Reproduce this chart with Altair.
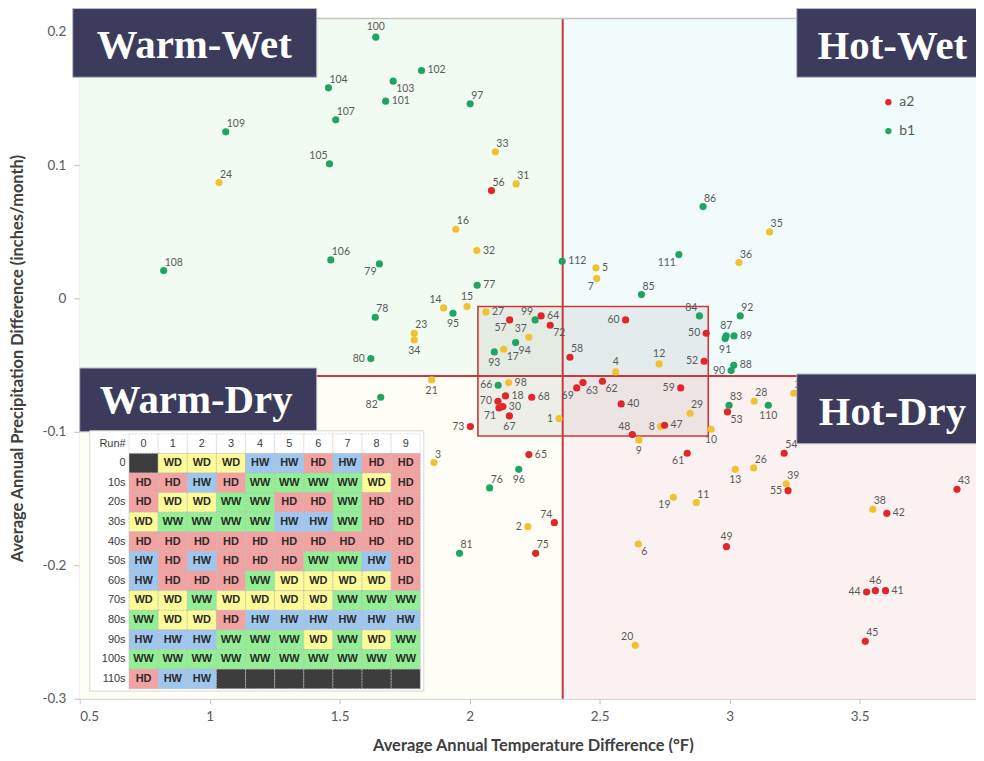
import altair as alt
import pandas as pd

# ---------------- data ----------------
run_ids = [1, 2, 3, 4, 5, 6, 7, 8, 9, 10,
           11, 12, 13, 14, 15, 16, 17, 18, 19, 20,
           21, 23, 24, 25, 26, 27, 28, 29, 30,
           31, 32, 33, 34, 35, 36, 37, 38, 39,
           40, 41, 42, 43, 44, 45, 46, 47, 48, 49,
           50, 52, 53, 54, 55, 56, 57, 58, 59, 60,
           61, 62, 63, 64, 65, 66, 67, 68, 69, 70,
           71, 72, 73, 74, 75, 76, 77, 78, 79, 80,
           81, 82, 83, 84, 85, 86, 87, 88, 89, 90,
           91, 92, 93, 94, 95, 96, 97, 98, 99, 100,
           101, 102, 103, 104, 105, 106, 107, 108, 109, 110,
           111, 112]

temp_diff = [2.344, 2.224, 1.863, 2.562, 2.486, 2.649, 2.489, 2.735, 2.651, 2.929,
             2.872, 2.729, 3.022, 1.900, 1.990, 1.947, 2.131, 2.138, 2.784, 2.637,
             1.854, 1.787, 1.036, 3.247, 3.093, 2.063, 3.095, 2.848, 2.128,
             2.179, 2.028, 2.099, 1.787, 3.154, 3.036, 2.228, 3.551, 3.218,
             2.583, 3.600, 3.605, 3.875, 3.527, 3.522, 3.561, 2.750, 2.626, 2.988,
             2.910, 2.902, 2.992, 3.210, 3.225, 2.084, 2.154, 2.386, 2.812, 2.600,
             2.837, 2.511, 2.436, 2.275, 2.228, 2.110, 2.153, 2.239, 2.412, 2.109,
             2.113, 2.310, 2.003, 2.326, 2.254, 2.077, 2.029, 1.637, 1.653, 1.620,
             1.961, 1.658, 2.998, 2.884, 2.661, 2.898, 2.987, 3.016, 3.017, 3.006,
             2.983, 3.041, 2.095, 2.177, 1.936, 2.189, 2.002, 2.150, 2.252, 1.639,
             1.677, 1.815, 1.706, 1.457, 1.461, 1.466, 1.485, 0.823, 1.062, 3.149,
             2.805, 2.356]

precip_diff = [-0.090, -0.171, -0.123, -0.055, 0.023, -0.184, 0.015, -0.096, -0.106, -0.098,
               -0.153, -0.049, -0.128, -0.007, -0.006, 0.052, -0.038, -0.073, -0.149, -0.260,
               -0.061, -0.026, 0.087, -0.071, -0.127, -0.010, -0.077, -0.086, -0.081,
               0.086, 0.036, 0.110, -0.031, 0.050, 0.027, -0.029, -0.158, -0.139,
               -0.079, -0.219, -0.161, -0.143, -0.220, -0.257, -0.219, -0.095, -0.102, -0.186,
               -0.026, -0.047, -0.085, -0.116, -0.144, 0.081, -0.016, -0.044, -0.067, -0.016,
               -0.116, -0.062, -0.063, -0.013, -0.117, -0.065, -0.088, -0.074, -0.067, -0.077,
               -0.082, -0.020, -0.096, -0.168, -0.191, -0.142, 0.010, -0.014, 0.026, -0.045,
               -0.191, -0.074, -0.080, -0.013, 0.003, 0.069, -0.028, -0.050, -0.028, -0.054,
               -0.030, -0.013, -0.040, -0.033, -0.011, -0.128, 0.146, -0.063, -0.016, 0.196,
               0.148, 0.171, 0.163, 0.158, 0.101, 0.029, 0.134, 0.021, 0.125, -0.080,
               0.033, 0.028]

scenario = ["a1b", "a1b", "a1b", "a1b", "a1b", "a1b", "a1b", "a1b", "a1b", "a1b",
            "a1b", "a1b", "a1b", "a1b", "a1b", "a1b", "a1b", "a2", "a1b", "a1b",
            "a1b", "a1b", "a1b", "a1b", "a1b", "a1b", "a1b", "a1b", "a2",
            "a1b", "a1b", "a1b", "a1b", "a1b", "a1b", "a1b", "a1b", "a1b",
            "a2", "a2", "a2", "a2", "a2", "a2", "a2", "a2", "a2", "a2",
            "a2", "a2", "a2", "a2", "a2", "a2", "a2", "a2", "a2", "a2",
            "a2", "a2", "a2", "a2", "a2", "b1", "a2", "a2", "a2", "a2",
            "a2", "a2", "a2", "a2", "a2", "b1", "b1", "b1", "b1", "b1",
            "b1", "b1", "b1", "b1", "b1", "b1", "b1", "b1", "b1", "b1",
            "b1", "b1", "b1", "b1", "b1", "b1", "b1", "a1b", "b1", "b1",
            "b1", "b1", "b1", "b1", "b1", "b1", "b1", "b1", "b1", "b1",
            "b1", "b1"]

# where each run number sits around its dot (compass side)
label_side = ["w", "w", "ne", "n", "e", "se", "sw", "w", "s", "s",
              "ne", "n", "s", "nw", "n", "ne", "se", "e", "sw", "nw",
              "s", "ne", "ne", "ne", "ne", "e", "ne", "ne", "e",
              "ne", "e", "ne", "s", "ne", "ne", "nw", "ne", "ne",
              "e", "e", "e", "ne", "w", "ne", "n", "e", "nw", "n",
              "w", "w", "se", "ne", "w", "ne", "sw", "ne", "w", "w",
              "sw", "se", "se", "e", "e", "w", "s", "e", "sw", "w",
              "sw", "se", "w", "nw", "ne", "ne", "e", "ne", "sw", "w",
              "ne", "sw", "ne", "nw", "ne", "ne", "n", "e", "e", "w",
              "s", "ne", "s", "se", "s", "s", "ne", "e", "nw", "n",
              "e", "e", "se", "ne", "nw", "ne", "ne", "ne", "ne", "s",
              "sw", "e"]

scenario_names = ["a1b", "a2", "b1"]
legend_entries = ["a2", "b1"]

quadrant_names = ["Warm-Wet", "Hot-Wet", "Warm-Dry", "Hot-Dry"]
temp_split = 2.358
precip_split = -0.058
focus_temp = [2.032, 2.918]
focus_precip = [-0.103, -0.006]
x_limits = [0.5, 3.948]
y_limits = [-0.3, 0.21]
x_ticks = [0.5, 1, 1.5, 2, 2.5, 3, 3.5]
y_ticks = [-0.3, -0.2, -0.1, 0, 0.1, 0.2]

table_header = ["Run#", "0", "1", "2", "3", "4", "5", "6", "7", "8", "9"]
table_rows = ["0", "10s", "20s", "30s", "40s", "50s", "60s", "70s", "80s", "90s", "100s", "110s"]
table_codes = [
    ["", "WD", "WD", "WD", "HW", "HW", "HD", "HW", "HD", "HD"],
    ["HD", "HD", "HW", "HD", "WW", "WW", "WW", "WW", "WD", "HD"],
    ["HD", "WD", "WD", "WW", "WW", "HD", "HD", "WW", "HD", "HD"],
    ["WD", "WW", "WW", "WW", "WW", "HW", "HW", "WW", "HD", "HD"],
    ["HD", "HD", "HD", "HD", "HD", "HD", "HD", "HD", "HD", "HD"],
    ["HW", "HD", "HW", "HD", "HD", "HD", "WW", "WW", "HW", "HD"],
    ["HW", "HD", "HD", "HD", "WW", "WD", "WD", "WD", "WD", "HD"],
    ["WD", "WD", "WW", "WD", "WD", "WD", "WD", "WW", "WW", "WW"],
    ["WW", "WD", "WD", "HD", "HW", "HW", "HW", "HW", "HW", "HW"],
    ["HW", "HW", "HW", "WW", "WW", "WW", "WD", "WW", "WD", "WW"],
    ["WW", "WW", "WW", "WW", "WW", "WW", "WW", "WW", "WW", "WW"],
    ["HD", "HW", "HW", "", "", "", "", "", "", ""],
]
code_names = ["HD", "WD", "HW", "WW", ""]

# ---------------- styling ----------------
RED, YELLOW, GREEN = "#e2252b", "#f1c22f", "#1fa463"
LINE_RED = "#c9393b"
NAVY = "#3d3b5b"
LABEL_GRAY = "#595959"
FONT = "Lato"

x_title = "Average Annual Temperature Difference (\u00b0F)"
y_title = "Average Annual Precipitation Difference (inches/month)"

xs = alt.Scale(domain=x_limits, nice=False, zero=False)
ys = alt.Scale(domain=y_limits, nice=False, zero=False)

x_axis = alt.Axis(values=x_ticks, grid=False, domainColor="#bfbfbf", tickColor="#bfbfbf",
                  tickSize=5, labelPadding=6, labelFont=FONT, labelFontSize=13.5,
                  labelColor=LABEL_GRAY, labelExpr="format(datum.value, '~g')",
                  titleFont=FONT, titleFontSize=16.5, titleFontWeight="bold", titleColor="#404040",
                  titleX=455, titleY=47, titleBaseline="middle")
y_axis = alt.Axis(values=y_ticks, grid=False, domainColor="#bfbfbf", tickColor="#bfbfbf",
                  tickSize=6, labelPadding=8, labelFont=FONT, labelFontSize=13.5,
                  labelColor=LABEL_GRAY,
                  labelExpr="datum.value == 0 ? '0' : replace(format(datum.value, '.1f'), '\u2212', '-')",
                  titleFont=FONT, titleFontSize=16.5, titleFontWeight="bold", titleColor="#404040",
                  titleX=-62, titleY=341, titleAngle=270, titleBaseline="middle", titleAlign="center")


def X(field):
    return alt.X(field, type="quantitative", scale=xs, axis=x_axis, title=x_title)


def Y(field):
    return alt.Y(field, type="quantitative", scale=ys, axis=y_axis, title=y_title)


pts = pd.DataFrame({
    "run": [str(r) for r in run_ids],
    "temp": temp_diff,
    "precip": precip_diff,
    "scenario": scenario,
    "side": label_side,
})

quad_df = pd.DataFrame({
    "name": quadrant_names,
    "x0": [x_limits[0], temp_split, x_limits[0], temp_split],
    "x1": [temp_split, x_limits[1], temp_split, x_limits[1]],
    "y0": [precip_split, precip_split, y_limits[0], y_limits[0]],
    "y1": [y_limits[1], y_limits[1], precip_split, precip_split],
})

bg = alt.Chart(quad_df).mark_rect().encode(
    x=X("x0"), x2="x1", y=Y("y0"), y2="y1",
    fill=alt.Fill("name:N", scale=alt.Scale(domain=quadrant_names,
                                            range=["#f1fbf1", "#f1fbfc", "#fefef7", "#fcf1f1"]),
                  legend=None),
)

focus_df = pd.DataFrame({"x0": [focus_temp[0]], "x1": [focus_temp[1]],
                         "y0": [focus_precip[0]], "y1": [focus_precip[1]]})
focus = alt.Chart(focus_df).mark_rect(fill="#9a9a9a", fillOpacity=0.16, stroke=LINE_RED,
                                      strokeWidth=1.6).encode(
    x=X("x0"), x2="x1", y=Y("y0"), y2="y1")

vline = alt.Chart(pd.DataFrame({"t": [temp_split]})).mark_rule(
    color=LINE_RED, strokeWidth=2).encode(x=X("t"))
hline = alt.Chart(pd.DataFrame({"p": [precip_split]})).mark_rule(
    color=LINE_RED, strokeWidth=2).encode(y=Y("p"))
topline = alt.Chart(pd.DataFrame({"p": [y_limits[1]]})).mark_rule(
    color="#c4c4c4", strokeWidth=1.5).encode(y=Y("p"))

points = alt.Chart(pts).mark_circle(size=52, opacity=1).encode(
    x=X("temp"), y=Y("precip"),
    color=alt.Color("scenario:N",
                    scale=alt.Scale(domain=scenario_names, range=[YELLOW, RED, GREEN]),
                    legend=alt.Legend(orient="none", legendX=805, legendY=77, values=legend_entries,
                                      title=None, symbolType="circle", symbolSize=40,
                                      symbolStrokeWidth=0, labelFont=FONT, labelFontSize=14,
                                      labelColor=LABEL_GRAY, rowPadding=15, padding=0,
                                      labelOffset=4)),
)

sides = {
    "n": dict(align="center", baseline="bottom", dx=0, dy=-5),
    "ne": dict(align="left", baseline="bottom", dx=1, dy=-3),
    "e": dict(align="left", baseline="middle", dx=6, dy=0),
    "se": dict(align="left", baseline="top", dx=3, dy=3),
    "s": dict(align="center", baseline="top", dx=0, dy=6),
    "sw": dict(align="right", baseline="top", dx=-3, dy=3),
    "w": dict(align="right", baseline="middle", dx=-6, dy=0),
    "nw": dict(align="right", baseline="bottom", dx=-2, dy=-3),
}
label_layers = [
    alt.Chart(pts).transform_filter(alt.datum.side == s).mark_text(
        font=FONT, fontSize=10.5, color=LABEL_GRAY, **kw).encode(
        x=X("temp"), y=Y("precip"), text="run:N")
    for s, kw in sides.items()
]

# quadrant name plates (annotation boxes, pixel placed)
plates = {
    "Warm-Wet": dict(x=-7, x2=238, y=-10, y2=59, tx=115, ty=40),
    "Hot-Wet": dict(x=720, x2=904, y=-10, y2=59, tx=816, ty=41),
    "Warm-Dry": dict(x=0, x2=238, y=351, y2=415, tx=117, ty=396),
    "Hot-Dry": dict(x=720, x2=904, y=357, y2=427, tx=816, ty=408),
}
plate_layers = []
for name, p in plates.items():
    d = pd.DataFrame({"name": [name]})
    plate_layers.append(alt.Chart(d).mark_rect(fill=NAVY, stroke="#b8b8c8", strokeWidth=1).encode(
        x=alt.value(p["x"]), x2=alt.value(p["x2"]), y=alt.value(p["y"]), y2=alt.value(p["y2"])))
    plate_layers.append(alt.Chart(d).mark_text(font="Liberation Serif", fontSize=41,
                                               fontWeight="bold", color="white",
                                               align="center", baseline="alphabetic").encode(
        x=alt.value(p["tx"]), y=alt.value(p["ty"]), text="name:N"))

main = alt.layer(bg, focus, vline, hline, topline, points, *label_layers, *plate_layers)

# ---------------- inset table ----------------
cells = []
for c in range(10):
    cells.append({"c0": c, "c1": c + 1, "r0": 0, "r1": 1, "code": "hdr", "txt": table_header[c + 1]})
for r, row in enumerate(table_codes):
    for c, code in enumerate(row):
        cells.append({"c0": c, "c1": c + 1, "r0": r + 1, "r1": r + 2, "code": code, "txt": code})
cell_df = pd.DataFrame(cells)
cell_df["cx"] = cell_df["c0"] + 0.5
cell_df["cy"] = cell_df["r0"] + 0.5

row_df = pd.DataFrame({"txt": [table_header[0]] + table_rows,
                       "cy": [i + 0.5 for i in range(len(table_rows) + 1)]})
row_df["cx"] = -0.12
frame_df = pd.DataFrame({"c0": [-1.35], "c1": [10.12], "r0": [-0.15], "r1": [13.12]})

tx = alt.Scale(domain=[-1.25, 10], range=[13, 342], nice=False, zero=False)
ty = alt.Scale(domain=[0, 13], range=[417, 673], nice=False, zero=False)

frame = alt.Chart(frame_df).mark_rect(fill="white", stroke="#d6d6d6", strokeWidth=1).encode(
    x=alt.X("c0:Q", scale=tx, axis=None), x2="c1:Q",
    y=alt.Y("r0:Q", scale=ty, axis=None), y2="r1:Q")

body = alt.Chart(cell_df).transform_filter(alt.datum.code != "hdr").mark_rect(
    stroke="#b9b9b9", strokeWidth=0.7, strokeDash=[2, 1]).encode(
    x=alt.X("c0:Q", scale=tx, axis=None), x2="c1:Q",
    y=alt.Y("r0:Q", scale=ty, axis=None), y2="r1:Q",
    fill=alt.Fill("code:N", scale=alt.Scale(domain=code_names,
                                            range=["#f3a2a2", "#fdfb98", "#9ec6ee", "#93ef93", "#3d3d3d"]),
                  legend=None))

grid_lines = alt.Chart(cell_df).transform_filter(alt.datum.code == "hdr").mark_rect(
    fill="white", stroke="#d0d0d0", strokeWidth=0.7, strokeDash=[2, 1]).encode(
    x=alt.X("c0:Q", scale=tx, axis=None), x2="c1:Q",
    y=alt.Y("r0:Q", scale=ty, axis=None), y2="r1:Q")

cell_text = alt.Chart(cell_df).transform_filter(alt.datum.code != "hdr").mark_text(
    font="Liberation Sans", fontSize=11, fontWeight="bold", color="#2a2a2a").encode(
    x=alt.X("cx:Q", scale=tx, axis=None), y=alt.Y("cy:Q", scale=ty, axis=None), text="txt:N")

head_text = alt.Chart(cell_df).transform_filter(alt.datum.code == "hdr").mark_text(
    font="Liberation Sans", fontSize=11, color="#3a3a3a").encode(
    x=alt.X("cx:Q", scale=tx, axis=None), y=alt.Y("cy:Q", scale=ty, axis=None), text="txt:N")

row_text = alt.Chart(row_df).mark_text(font="Liberation Sans", fontSize=11, color="#3a3a3a",
                                       align="right").encode(
    x=alt.X("cx:Q", scale=tx, axis=None), y=alt.Y("cy:Q", scale=ty, axis=None), text="txt:N")

table = alt.layer(frame, grid_lines, body, cell_text, head_text, row_text)

chart = alt.layer(main, table).resolve_scale(
    x="independent", y="independent", color="independent", fill="independent"
).properties(
    width=900, height=683,
    autosize=alt.AutoSizeParams(type="none"),
    padding={"left": 72, "top": 9, "right": 0, "bottom": 53},
    background="white",
).configure_view(stroke=None)

chart.save("out.html", embed_options={"renderer": "svg", "actions": False})
